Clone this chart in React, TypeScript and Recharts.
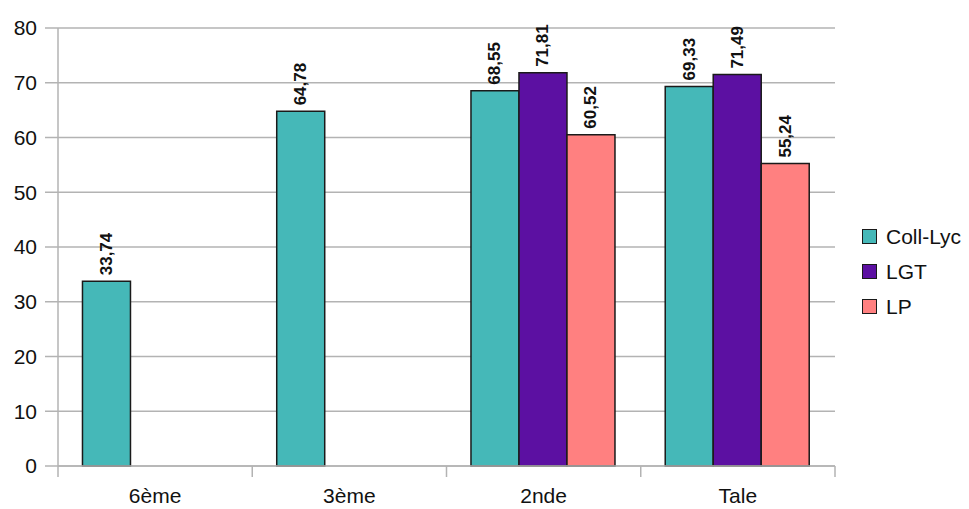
import { Bar, BarChart, CartesianGrid, LabelList, Legend, XAxis, YAxis } from 'recharts'

const categories = ['6ème', '3ème', '2nde', 'Tale']
const collLyc = [33.74, 64.78, 68.55, 69.33]
const lgt = [null, null, 71.81, 71.49]
const lp = [null, null, 60.52, 55.24]
const yTicks = [0, 10, 20, 30, 40, 50, 60, 70, 80]

const SERIES = [
  { key: 'collLyc', name: 'Coll-Lyc', color: '#45b8b8' },
  { key: 'lgt', name: 'LGT', color: '#5c10a2' },
  { key: 'lp', name: 'LP', color: '#ff8080' },
]

const FONT = '"Liberation Sans", Arial, sans-serif'
const GRID = '#b3b3b3'
const X_TICK_SIZE = 11
const X_TICK_MARGIN = 11

const data = categories.map((name, i) => ({
  name,
  collLyc: collLyc[i],
  lgt: lgt[i],
  lp: lp[i],
}))

function renderLabel(props: any) {
  const { x, y, width, value } = props
  if (value == null) return null
  const cx = x + width / 2
  const ty = y - 6
  return (
    <text
      x={cx}
      y={ty}
      transform={`rotate(-90 ${cx} ${ty})`}
      textAnchor="start"
      dominantBaseline="central"
      fontFamily={FONT}
      fontWeight="bold"
      fontSize={17}
      fill="#111"
    >
      {Number(value).toFixed(2).replace('.', ',')}
    </text>
  )
}

// category label plus tick marks on the category boundaries
function renderXTick(props: any) {
  const { x, y, payload, index } = props
  const half = payload.offset || 0
  const y1 = y - X_TICK_MARGIN - X_TICK_SIZE
  const y2 = y - X_TICK_MARGIN
  return (
    <g>
      <line x1={x - half} x2={x - half} y1={y1} y2={y2} stroke={GRID} strokeWidth={1.5} />
      {index === categories.length - 1 && (
        <line x1={x + half} x2={x + half} y1={y1} y2={y2} stroke={GRID} strokeWidth={1.5} />
      )}
      <text x={x} y={y} dy="0.71em" textAnchor="middle" fontFamily={FONT} fontSize={21} fill="#111">
        {payload.value}
      </text>
    </g>
  )
}

function renderLegend() {
  return (
    <div style={{ fontFamily: FONT, fontSize: 21, color: '#111' }}>
      {SERIES.map((s) => (
        <div key={s.key} style={{ display: 'flex', alignItems: 'center', height: 35 }}>
          <span
            style={{
              width: 13,
              height: 13,
              background: s.color,
              border: '1.5px solid #1a1a1a',
              marginRight: 9,
              display: 'inline-block',
            }}
          />
          <span>{s.name}</span>
        </div>
      ))}
    </div>
  )
}

export default function App() {
  return (
    <div style={{ position: 'absolute', left: 0, top: 0, background: '#fff' }}>
      <BarChart
        width={969}
        height={509}
        data={data}
        margin={{ top: 28, right: 24, bottom: 0, left: 0 }}
        barCategoryGap="12.6%"
        barGap={0}
      >
        <CartesianGrid vertical={false} stroke={GRID} strokeWidth={1.5} />
        <XAxis
          dataKey="name"
          height={43}
          tickLine={false}
          tickSize={X_TICK_SIZE}
          tickMargin={X_TICK_MARGIN}
          axisLine={{ stroke: GRID, strokeWidth: 1.5 }}
          tick={renderXTick}
        />
        <YAxis
          width={58}
          domain={[0, 80]}
          ticks={yTicks}
          tickSize={13}
          tickMargin={8}
          axisLine={{ stroke: GRID, strokeWidth: 1.5 }}
          tickLine={{ stroke: GRID, strokeWidth: 1.5 }}
          tick={{ fontFamily: FONT, fontSize: 21, fill: '#111' }}
        />
        <Legend
          layout="vertical"
          align="right"
          verticalAlign="middle"
          content={renderLegend}
          wrapperStyle={{ left: 862, top: 219, width: 110 }}
        />
        {SERIES.map((s) => (
          <Bar
            key={s.key}
            dataKey={s.key}
            name={s.name}
            fill={s.color}
            stroke="#1a1a1a"
            strokeWidth={1.5}
            isAnimationActive={false}
          >
            <LabelList dataKey={s.key} content={renderLabel} />
          </Bar>
        ))}
      </BarChart>
    </div>
  )
}
